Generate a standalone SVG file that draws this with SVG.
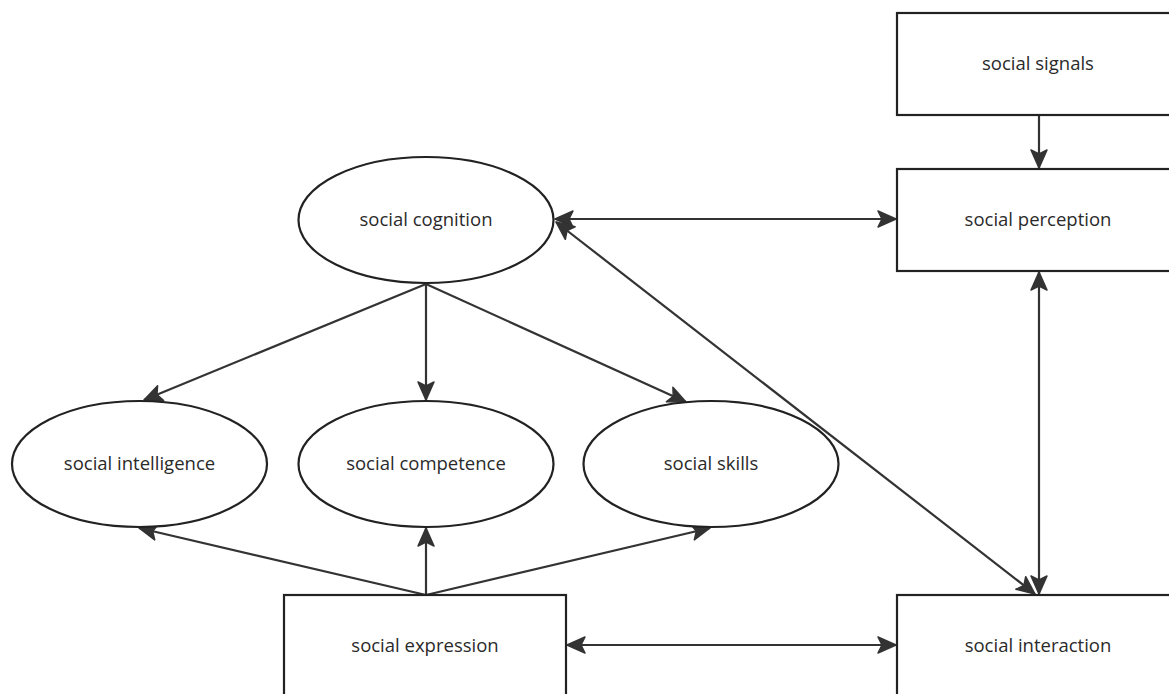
<svg xmlns="http://www.w3.org/2000/svg" width="1169" height="694" viewBox="0 0 1169 694">
<style>
.shape{fill:#fff;stroke:#222;stroke-width:2.2}
.lbl{font-family:"Open Sans","Noto Sans",sans-serif;font-size:18.5px;fill:#2a2a2a;text-anchor:middle;dominant-baseline:central}
.edge{fill:none;stroke:#333;stroke-width:2.2}
.one{marker-end:url(#arr)}
.two{marker-end:url(#arr);marker-start:url(#arr)}
</style>
<defs>
<marker id="arr" markerUnits="userSpaceOnUse" markerWidth="22" markerHeight="20" refX="20" refY="10" orient="auto-start-reverse" viewBox="0 0 22 20">
<path d="M2,2 L20,10 L2,18 L6,10 Z" fill="#333" stroke="#333" stroke-width="1.5" stroke-linejoin="round"/>
</marker>
</defs>
<rect width="1169" height="694" fill="#fff"/>
<g id="connectors">
<path class="edge one" d="M1039,116 L1039,168"/>
<path class="edge two" d="M555,219 L896,219"/>
<path class="edge two" d="M556,222 L1035,594"/>
<path class="edge two" d="M1039,272 L1039,594"/>
<path class="edge two" d="M567,645 L896,645"/>
<path class="edge one" d="M426,284 L144,400"/>
<path class="edge one" d="M426,284 L426,400"/>
<path class="edge one" d="M426,284 L686,402"/>
<path class="edge one" d="M426,595 L139,528"/>
<path class="edge one" d="M426,595 L426,528"/>
<path class="edge one" d="M426,595 L710,528"/>
</g>
<g id="social-signals">
<rect class="shape" x="897" y="13" width="282" height="102"/>
<text class="lbl" x="1038" y="62">social signals</text>
</g>
<g id="social-perception">
<rect class="shape" x="897" y="169" width="282" height="102"/>
<text class="lbl" x="1038" y="218">social perception</text>
</g>
<g id="social-interaction">
<rect class="shape" x="897" y="595" width="282" height="102"/>
<text class="lbl" x="1038" y="644">social interaction</text>
</g>
<g id="social-expression">
<rect class="shape" x="284" y="595" width="282" height="102"/>
<text class="lbl" x="425" y="644">social expression</text>
</g>
<g id="social-cognition">
<ellipse class="shape" cx="426" cy="220" rx="127.5" ry="63"/>
<text class="lbl" x="426" y="218">social cognition</text>
</g>
<g id="social-intelligence">
<ellipse class="shape" cx="139.5" cy="464" rx="127.5" ry="63"/>
<text class="lbl" x="139.5" y="462">social intelligence</text>
</g>
<g id="social-competence">
<ellipse class="shape" cx="426" cy="464" rx="127.5" ry="63"/>
<text class="lbl" x="426" y="462">social competence</text>
</g>
<g id="social-skills">
<ellipse class="shape" cx="711" cy="464" rx="127.5" ry="63"/>
<text class="lbl" x="711" y="462">social skills</text>
</g>
</svg>
